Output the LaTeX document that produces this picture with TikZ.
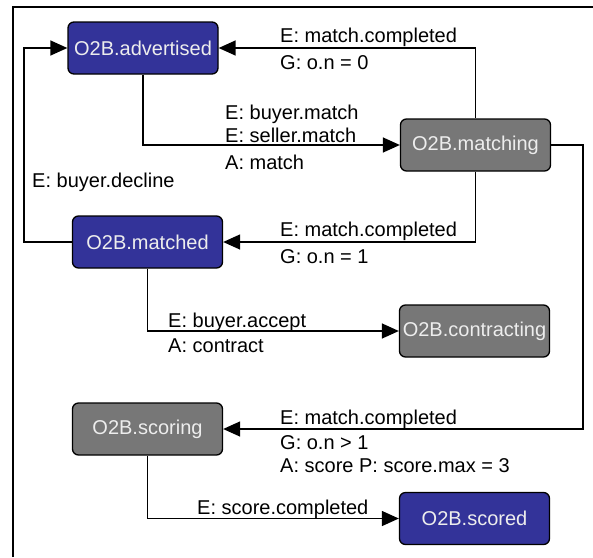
\documentclass[tikz,border=0pt]{standalone}
\usepackage{fontspec}
\setmainfont{Liberation Sans}
\usetikzlibrary{arrows.meta}
\definecolor{stateblue}{HTML}{333399}
\definecolor{stategray}{HTML}{777777}
\begin{document}
\begin{tikzpicture}[x=1pt,y=-1pt,
  state/.style={draw=black, line width=1.3pt, rounded corners=6pt,
    minimum width=150pt, minimum height=52pt, inner sep=0pt,
    text=white!93!black, font=\fontsize{20}{22}\selectfont},
  active/.style={state, fill=stateblue},
  passive/.style={state, fill=stategray},
  trans/.style={line width=1.4pt, -{Triangle[length=17pt,width=15pt]}},
  lbl/.style={anchor=base west, inner sep=0pt, font=\fontsize{20}{22}\selectfont}]
  \useasboundingbox (0,0) rectangle (593,557);
  % partial outer frame
  \draw[line width=1.6pt] (13,557) -- (13,7) -- (593,7);

  % states
  \node[active]  (advertised)  at (143,48)    {O2B.advertised};
  \node[passive] (matching)    at (475.5,145) {O2B.matching};
  \node[active]  (matched)     at (147.5,242) {O2B.matched};
  \node[passive] (contracting) at (474.5,331) {O2B.contracting};
  \node[passive] (scoring)     at (147.5,429) {O2B.scoring};
  \node[active]  (scored)      at (474.5,518.5) {O2B.scored};

  % bends of the outer loops
  \coordinate (declinebend) at (24,242);
  \coordinate (scorebend)   at (583,145);

  % transitions
  \draw[trans] (matching.north) |- (advertised.east);
  \draw[trans] (advertised.south) |- (matching.west);
  \draw[trans] (matching.south) |- (matched.east);
  \draw[trans] (matched.west) -- (declinebend) |- (advertised.west);
  \draw[trans] (matched.south) |- (contracting.west);
  \draw[trans] (matching.east) -- (scorebend) |- (scoring.east);
  \draw[trans] (scoring.south) |- (scored.west);

  % transition labels
  \node[lbl] (l1a) at (280,42)  {E: match.completed};
  \node[lbl] (l1b) at (280,69)  {G: o.n = 0};
  \node[lbl] (l2a) at (225,119) {E: buyer.match};
  \node[lbl] (l2b) at (225,142) {E: seller.match};
  \node[lbl] (l2c) at (225,169) {A: match};
  \node[lbl] (l3a) at (280,236) {E: match.completed};
  \node[lbl] (l3b) at (280,263) {G: o.n = 1};
  \node[lbl] (l4)  at (32,187)  {E: buyer.decline};
  \node[lbl] (l5a) at (168,327) {E: buyer.accept};
  \node[lbl] (l5b) at (168,352) {A: contract};
  \node[lbl] (l6a) at (280,424) {E: match.completed};
  \node[lbl] (l6b) at (280,449) {G: o.n > 1};
  \node[lbl] (l6c) at (280,472) {A: score P: score.max = 3};
  \node[lbl] (l7)  at (197,514) {E: score.completed};
\end{tikzpicture}
\end{document}
